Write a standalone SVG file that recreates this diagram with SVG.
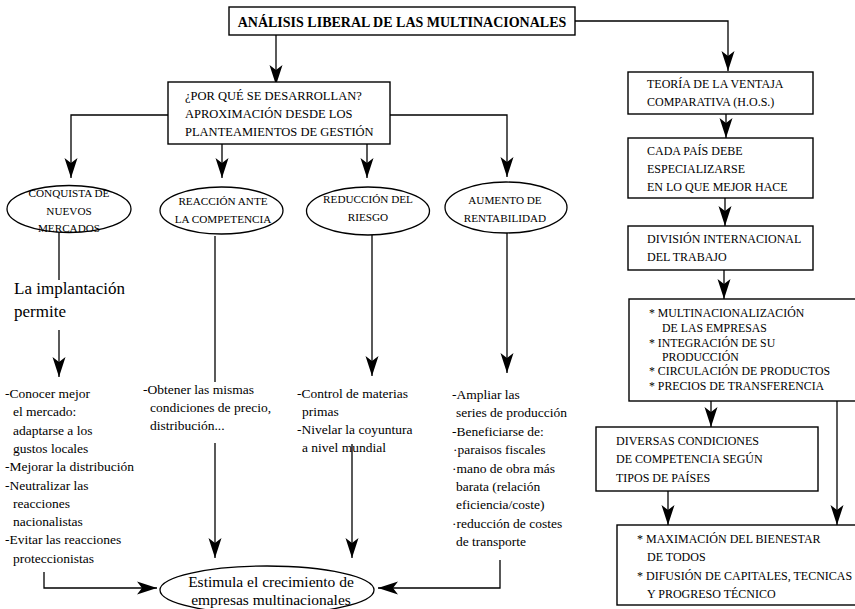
<svg xmlns="http://www.w3.org/2000/svg" width="855" height="609" viewBox="0 0 855 609">
<style>
text{font-family:"Liberation Serif","Times New Roman",serif;fill:#000}
.box{fill:#fff;stroke:#000;stroke-width:1.4}
.ell{fill:#fff;stroke:#000;stroke-width:1.3}
.cap{font-size:12px}
.q{font-size:12.5px}
.el{font-size:11.2px;text-anchor:middle}
.body{font-size:13.5px}
.big{font-size:17px}
.est{font-size:15.5px;text-anchor:middle}
.multi{font-size:11.8px}
.title{font-size:14px;font-weight:bold;text-anchor:middle}
.ln{fill:none;stroke:#000;stroke-width:1.3}
.arr{marker-end:url(#ah)}
</style>
<defs>
<marker id="ah" viewBox="-21 -7 22 14" refX="0" refY="0" markerWidth="22" markerHeight="14" orient="auto" markerUnits="userSpaceOnUse">
<path d="M0,0 L-20,-6.5 L-15,0 L-20,6.5 Z" fill="#000"/>
</marker>
</defs>
<rect width="855" height="609" fill="#fff"/>

<g id="connectors">
<path class="ln arr" d="M276,35 V85"/>
<path class="ln arr" d="M575,21 H728 V71"/>
<path class="ln arr" d="M168,115 H71 V178"/>
<path class="ln arr" d="M222,144 V178"/>
<path class="ln arr" d="M367,144 V178"/>
<path class="ln arr" d="M390,115 H507 V177"/>
<path class="ln" d="M59,232 V280"/>
<path class="ln arr" d="M59,330 V377"/>
<path class="ln" d="M215,236 V382"/>
<path class="ln arr" d="M215,443 V558"/>
<path class="ln arr" d="M372,235 V376"/>
<path class="ln arr" d="M352,444 V558"/>
<path class="ln arr" d="M507,233 V373"/>
<path class="ln arr" d="M44,572 V588 H157"/>
<path class="ln arr" d="M500,560 V588 H378"/>
<path class="ln arr" d="M726,114 V138"/>
<path class="ln arr" d="M725,198 V226"/>
<path class="ln arr" d="M724,270 V299"/>
<path class="ln arr" d="M711,401 V427"/>
<path class="ln arr" d="M668,491 V525"/>
<path class="ln arr" d="M837,401 V525"/>
</g>

<g id="title">
<rect class="box" x="229" y="7" width="346" height="28"/>
<text class="title" x="402" y="27">ANÁLISIS LIBERAL DE LAS MULTINACIONALES</text>
</g>

<g id="question">
<rect class="box" x="168" y="82" width="222" height="62"/>
<text class="q" x="185" y="99.5">¿POR QUÉ SE DESARROLLAN?</text>
<text class="q" x="185" y="117.5">APROXIMACIÓN DESDE LOS</text>
<text class="q" x="185" y="136">PLANTEAMIENTOS DE GESTIÓN</text>
</g>

<g id="conquista">
<ellipse class="ell" cx="69" cy="209" rx="62" ry="23.5"/>
<text class="el" x="69" y="197">CONQUISTA DE</text>
<text class="el" x="69" y="215">NUEVOS</text>
<text class="el" x="69" y="232">MERCADOS</text>
</g>

<g id="reaccion">
<ellipse class="ell" cx="221.5" cy="210.5" rx="61.5" ry="23.5"/>
<text class="el" x="223" y="205">REACCIÓN ANTE</text>
<text class="el" x="223" y="223">LA COMPETENCIA</text>
</g>

<g id="reduccion">
<ellipse class="ell" cx="368" cy="211" rx="61.5" ry="24"/>
<text class="el" x="368" y="203">REDUCCIÓN DEL</text>
<text class="el" x="368" y="221">RIESGO</text>
</g>

<g id="aumento">
<ellipse class="ell" cx="506" cy="207.5" rx="61" ry="25.5"/>
<text class="el" x="505" y="204">AUMENTO DE</text>
<text class="el" x="505" y="222">RENTABILIDAD</text>
</g>

<g id="implantacion">
<text class="big" x="14" y="294">La implantación</text>
<text class="big" x="14" y="317">permite</text>
</g>

<g id="col1-text">
<text class="body" x="5" y="398">-Conocer mejor</text>
<text class="body" x="13" y="416.3">el mercado:</text>
<text class="body" x="13" y="434.6">adaptarse a los</text>
<text class="body" x="13" y="452.9">gustos locales</text>
<text class="body" x="5" y="471.2">-Mejorar la distribución</text>
<text class="body" x="5" y="489.5">-Neutralizar las</text>
<text class="body" x="13" y="507.8">reacciones</text>
<text class="body" x="13" y="526.1">nacionalistas</text>
<text class="body" x="5" y="544.4">-Evitar las reacciones</text>
<text class="body" x="13" y="562.7">proteccionistas</text>
</g>

<g id="col2-text">
<text class="body" x="143" y="394">-Obtener las mismas</text>
<text class="body" x="150" y="412">condiciones de precio,</text>
<text class="body" x="150" y="430">distribución...</text>
</g>

<g id="col3-text">
<text class="body" x="297" y="398">-Control de materias</text>
<text class="body" x="302" y="416">primas</text>
<text class="body" x="297" y="434">-Nivelar la coyuntura</text>
<text class="body" x="302" y="452">a nivel mundial</text>
</g>

<g id="col4-text">
<text class="body" x="452" y="399">-Ampliar las</text>
<text class="body" x="456" y="417.4">series de producción</text>
<text class="body" x="452" y="435.8">-Beneficiarse de:</text>
<text class="body" x="453" y="454.2">·paraisos fiscales</text>
<text class="body" x="452" y="472.6">·mano de obra más</text>
<text class="body" x="456" y="491">barata (relación</text>
<text class="body" x="456" y="509.4">eficiencia/coste)</text>
<text class="body" x="452" y="527.8">·reducción de costes</text>
<text class="body" x="456" y="546.2">de transporte</text>
</g>

<g id="estimula">
<ellipse class="ell" cx="267" cy="590" rx="107" ry="24"/>
<text class="est" x="271" y="587">Estimula el crecimiento de</text>
<text class="est" x="271" y="605">empresas multinacionales</text>
</g>

<g id="teoria">
<rect class="box" x="628" y="72" width="185" height="42"/>
<text class="cap" x="647" y="88">TEORÍA DE LA VENTAJA</text>
<text class="cap" x="647" y="106">COMPARATIVA (H.O.S.)</text>
</g>

<g id="cada-pais">
<rect class="box" x="628" y="138" width="185" height="60"/>
<text class="cap" x="647" y="155">CADA PAÍS DEBE</text>
<text class="cap" x="647" y="173">ESPECIALIZARSE</text>
<text class="cap" x="647" y="191">EN LO QUE MEJOR HACE</text>
</g>

<g id="division">
<rect class="box" x="628" y="226" width="185" height="44"/>
<text class="cap" x="647" y="243">DIVISIÓN INTERNACIONAL</text>
<text class="cap" x="647" y="261">DEL TRABAJO</text>
</g>

<g id="multinacionalizacion">
<rect class="box" x="629" y="299" width="240" height="102"/>
<text class="multi" x="649" y="317">* MULTINACIONALIZACIÓN</text>
<text class="multi" x="662" y="332">DE LAS EMPRESAS</text>
<text class="multi" x="649" y="347">* INTEGRACIÓN DE SU</text>
<text class="multi" x="662" y="361">PRODUCCIÓN</text>
<text class="multi" x="649" y="375">* CIRCULACIÓN DE PRODUCTOS</text>
<text class="multi" x="649" y="390">* PRECIOS DE TRANSFERENCIA</text>
</g>

<g id="diversas">
<rect class="box" x="596" y="427" width="222" height="64"/>
<text class="cap" x="616" y="445">DIVERSAS CONDICIONES</text>
<text class="cap" x="616" y="463">DE COMPETENCIA SEGÚN</text>
<text class="cap" x="616" y="482">TIPOS DE PAÍSES</text>
</g>

<g id="maximacion">
<rect class="box" x="617" y="525" width="250" height="80"/>
<text class="cap" x="637" y="543">* MAXIMACIÓN DEL BIENESTAR</text>
<text class="cap" x="647" y="561">DE TODOS</text>
<text class="cap" x="637" y="580">* DIFUSIÓN DE CAPITALES, TECNICAS</text>
<text class="cap" x="647" y="598">Y PROGRESO TÉCNICO</text>
</g>
</svg>
